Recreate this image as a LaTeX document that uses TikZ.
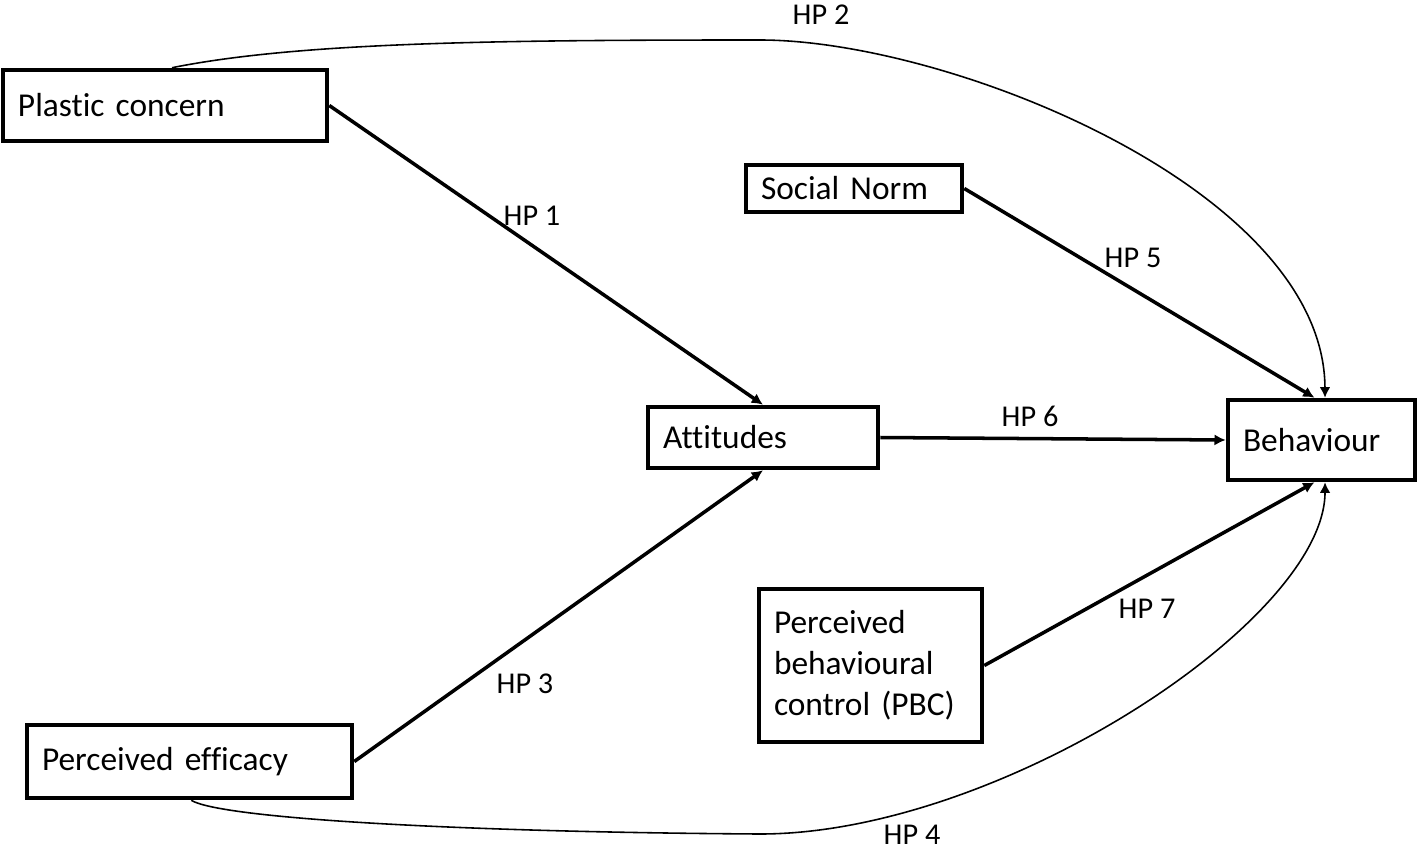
\documentclass[tikz,border=0pt]{standalone}
\usepackage{fontspec}
\setmainfont{Carlito}[Ligatures=NoCommon]
\usetikzlibrary{arrows.meta}

\begin{document}
\begin{tikzpicture}[
    construct/.style={draw, line width=1.3pt, inner xsep=0.15cm, inner ysep=0pt, align=left, font=\fontsize{9.5}{11.7}\selectfont},
    hp/.style={inner sep=0pt, font=\fontsize{8.6}{10}\selectfont},
    arr/.style={-{Latex[length=3.2pt,width=3.2pt]}, line width=1pt},
    curvearr/.style={-{Latex[length=3pt,width=3pt]}, line width=0.45pt}
]
\useasboundingbox (0,0) rectangle (14.18,-8.49);

\node[construct, text width=2.94cm, minimum height=0.71cm] (pc) at (1.65,-1.055) {Plastic concern};
\node[construct, text width=1.86cm, minimum height=0.47cm] (sn) at (8.54,-1.885) {Social Norm};
\node[construct, text width=2.00cm, minimum height=0.61cm] (att) at (7.63,-4.375) {Attitudes};
\node[construct, text width=1.57cm, minimum height=0.80cm] (beh) at (13.215,-4.40) {Behaviour};
\node[construct, text width=2.95cm, minimum height=0.73cm] (pe) at (1.895,-7.615) {Perceived efficacy};
\node[construct, text width=1.93cm, minimum height=1.53cm] (pbc) at (8.705,-6.655) {Perceived\\behavioural\\control (PBC)};

\node[hp] (hp1) at (5.32,-2.16) {HP 1};
\node[hp] (hp2) at (8.21,-0.15) {HP 2};
\node[hp] (hp3) at (5.25,-6.84) {HP 3};
\node[hp] (hp4) at (9.12,-8.35) {HP 4};
\node[hp] (hp5) at (11.33,-2.58) {HP 5};
\node[hp] (hp6) at (10.30,-4.16) {HP 6};
\node[hp] (hp7) at (11.47,-6.09) {HP 7};

\draw[arr] (pc.east) -- (att.north);
\draw[arr] (pe.east) -- (att.south);
\draw[arr] (att.east) -- (beh.west);
\draw[arr] (sn.east) -- ([xshift=-2pt]beh.north);
\draw[arr] (pbc.east) -- ([xshift=-2pt]beh.south);

% direct paths
\draw[curvearr] ([xshift=2pt]pc.north) .. controls (3.0,-0.42) and (5.0,-0.40) .. (7.6,-0.40)
    .. controls (9.5,-0.40) and (13.24,-1.9) .. ([xshift=1pt]beh.north);
\draw[curvearr] ([xshift=0.5pt]pe.south) .. controls (2.2,-8.18) and (4.5,-8.32) .. (7.6,-8.34)
    .. controls (10.0,-8.34) and (13.25,-6.2) .. ([xshift=1pt]beh.south);
\end{tikzpicture}
\end{document}
